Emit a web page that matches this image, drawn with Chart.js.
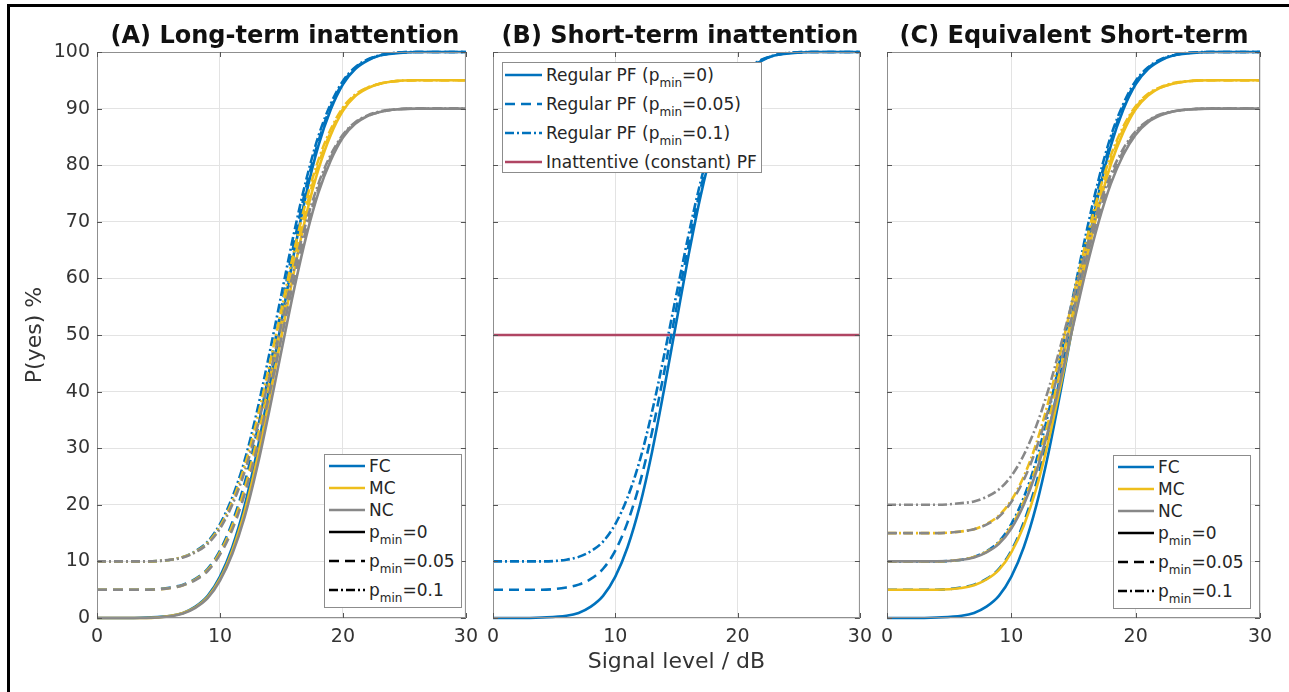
<!DOCTYPE html>
<html>
<head>
<meta charset="utf-8">
<script src="https://cdn.jsdelivr.net/npm/chart.js@4.4.0/dist/chart.umd.min.js"></script>
<style>
    html, body { margin: 0; padding: 0; background: #fff; overflow: hidden; }
    body { width: 1289px; height: 692px; position: relative; font-family: "DejaVu Sans", sans-serif; color: #262626; }
    .frame-top { position: absolute; left: 7px; top: 4px; width: 1282px; height: 3px; background: #000; }
    .frame-left { position: absolute; left: 7px; top: 4px; width: 3px; height: 688px; background: #000; }
    canvas { position: absolute; top: 0; }
    .ptitle { position: absolute; top: 21px; font-weight: bold; font-size: 24px; line-height: 28px; color: #111; transform: translateX(-50%); white-space: nowrap; }
    .legend { position: absolute; background: #fff; border: 1px solid #8c8c8c; font-size: 17px; color: #262626; box-sizing: border-box; overflow: hidden; }
    .row { display: flex; align-items: flex-start; }
    .row svg { flex: none; }
    .row span { line-height: 22px; white-space: nowrap; margin-left: 4px; }
    .row sub { font-size: 12px; line-height: 0; vertical-align: -6px; }
</style>
</head>
<body>
<div class="frame-top"></div>
<div class="frame-left"></div>
<canvas id="chartA" width="486" height="692" style="left:0px"></canvas>
<canvas id="chartB" width="402" height="692" style="left:478px"></canvas>
<canvas id="chartC" width="417" height="692" style="left:872px"></canvas>

<div class="ptitle" style="left:285px">(A) Long-term inattention</div>
<div class="ptitle" style="left:680px">(B) Short-term inattention</div>
<div class="ptitle" style="left:1074px">(C) Equivalent Short-term</div>

<div id="legendA" class="legend" style="left:324px; top:454px; width:138px; height:154px"></div>
<div id="legendB" class="legend" style="left:502px; top:62px; width:260px; height:111px"></div>
<div id="legendC" class="legend" style="left:1113px; top:455px; width:138px; height:154px"></div>

<script>
// signal level (dB)
const xs = [0, 2, 4, 6, 7, 8, 9, 10, 11, 12, 13, 14, 15, 16, 17, 18, 19, 20, 21, 22, 23, 24, 26, 28, 30];

// FC curves (same in all panels), P(yes) %
const fc0  = [0, 0, 0.1, 0.4, 0.9, 2.0, 3.9, 7.3, 12.5, 19.8, 29.3, 40.5, 52.4, 64.2, 74.8, 83.4, 89.8, 94.3, 97.0, 98.5, 99.4, 99.7, 100, 100, 100];
const fc05 = [5, 5, 5, 5.4, 5.9, 6.9, 8.7, 11.9, 16.9, 23.8, 32.8, 43.5, 54.8, 66.0, 76.1, 84.2, 90.3, 94.6, 97.2, 98.6, 99.4, 99.8, 100, 100, 100];
const fc10 = [10, 10, 10, 10.3, 10.8, 11.8, 13.5, 16.6, 21.3, 27.8, 36.4, 46.5, 57.2, 67.8, 77.3, 85.1, 90.8, 94.9, 97.3, 98.7, 99.4, 99.8, 100, 100, 100];

// (A) long-term inattention
const ltMC0  = [0, 0, 0, 0.4, 0.9, 1.9, 3.7, 6.9, 11.9, 18.8, 27.8, 38.5, 49.8, 61.0, 71.1, 79.2, 85.3, 89.6, 92.2, 93.6, 94.4, 94.8, 95, 95, 95];
const ltMC05 = [5, 5, 5, 5.3, 5.8, 6.8, 8.5, 11.6, 16.3, 22.8, 31.4, 41.5, 52.2, 62.8, 72.3, 80.1, 85.8, 89.9, 92.3, 93.7, 94.4, 94.8, 95, 95, 95];
const ltMC10 = [10, 10, 10, 10.3, 10.8, 11.7, 13.3, 16.2, 20.6, 26.8, 34.9, 44.4, 54.5, 64.6, 73.6, 80.9, 86.3, 90.2, 92.5, 93.7, 94.4, 94.8, 95, 95, 95];
const ltNC0  = [0, 0, 0, 0.3, 0.8, 1.8, 3.5, 6.6, 11.3, 17.8, 26.4, 36.5, 47.2, 57.8, 67.3, 75.1, 80.8, 84.9, 87.3, 88.7, 89.4, 89.8, 90, 90, 90];
const ltNC05 = [5, 5, 5, 5.3, 5.8, 6.7, 8.3, 11.2, 15.6, 21.8, 29.9, 39.4, 49.5, 59.6, 68.6, 75.9, 81.3, 85.2, 87.5, 88.7, 89.4, 89.8, 90, 90, 90];
const ltNC10 = [10, 10, 10, 10.3, 10.7, 11.6, 13.1, 15.8, 20.0, 25.8, 33.4, 42.4, 51.9, 61.4, 69.8, 76.7, 81.8, 85.4, 87.6, 88.8, 89.5, 89.8, 90, 90, 90];

// (B) inattentive constant PF
const inattX = [0, 30];
const inattY = [50, 50];

// (C) equivalent short-term
const esMC0  = [5, 5, 5, 5.3, 5.8, 6.8, 8.5, 11.6, 16.3, 22.8, 31.4, 41.5, 52.2, 62.8, 72.3, 80.1, 85.8, 89.9, 92.3, 93.7, 94.4, 94.8, 95, 95, 95];
const esMC05 = [10, 10, 10, 10.3, 10.8, 11.7, 13.3, 16.2, 20.6, 26.8, 34.9, 44.4, 54.5, 64.6, 73.6, 80.9, 86.3, 90.2, 92.5, 93.7, 94.4, 94.8, 95, 95, 95];
const esMC10 = [15, 15, 15, 15.3, 15.7, 16.6, 18.1, 20.8, 25.0, 30.8, 38.4, 47.4, 56.9, 66.4, 74.8, 81.7, 86.8, 90.4, 92.6, 93.8, 94.5, 94.8, 95, 95, 95];
const esNC0  = [10, 10, 10, 10.3, 10.7, 11.6, 13.1, 15.8, 20.0, 25.8, 33.4, 42.4, 51.9, 61.4, 69.8, 76.7, 81.8, 85.4, 87.6, 88.8, 89.5, 89.8, 90, 90, 90];
const esNC05 = [15, 15, 15, 15.3, 15.7, 16.5, 17.9, 20.5, 24.4, 29.9, 37.0, 45.4, 54.3, 63.2, 71.1, 77.6, 82.4, 85.7, 87.8, 88.9, 89.5, 89.8, 90, 90, 90];
const esNC10 = [20, 20, 20, 20.3, 20.6, 21.4, 22.7, 25.1, 28.8, 33.9, 40.5, 48.4, 56.7, 64.9, 72.4, 78.4, 82.9, 86.0, 87.9, 89.0, 89.5, 89.8, 90, 90, 90];

const xTicks = [0, 10, 20, 30];

const BLUE = '#0072BD';
const YELLOW = '#EEBE1C';
const GRAY = '#888888';
const RED = '#B04563';
const TEXT = '#333333';
const GRID = '#e3e3e3';
const AXIS = '#8f8f8f';
const FONT = '"DejaVu Sans", sans-serif';

const SOLID = [];
const DASHED = [10, 6];
const DASHDOT = [9, 3, 2, 3];

const curve = (px, py, color, dash, order) => ({
    data: px.map((x, i) => ({ x: x, y: py[i] })),
    borderColor: color,
    borderWidth: 2.6,
    borderDash: dash,
    pointRadius: 0,
    fill: false,
    cubicInterpolationMode: 'monotone',
    clip: 4,
    order: order
});

// box + inward tick marks, like the original axes
const axesBox = {
    id: 'axesBox',
    afterDatasetsDraw(chart) {
        const { ctx, chartArea: a, scales } = chart;
        ctx.save();
        ctx.setLineDash([]);
        ctx.strokeStyle = AXIS;
        ctx.lineWidth = 1;
        ctx.strokeRect(a.left + 0.5, a.top + 0.5, a.width - 1, a.height - 1);
        ctx.strokeStyle = '#555';
        ctx.beginPath();
        scales.x.ticks.forEach(t => {
            const p = Math.round(scales.x.getPixelForValue(t.value)) + 0.5;
            ctx.moveTo(p, a.bottom); ctx.lineTo(p, a.bottom - 5);
            ctx.moveTo(p, a.top); ctx.lineTo(p, a.top + 5);
        });
        scales.y.ticks.forEach(t => {
            const p = Math.round(scales.y.getPixelForValue(t.value)) + 0.5;
            ctx.moveTo(a.left, p); ctx.lineTo(a.left + 5, p);
            ctx.moveTo(a.right, p); ctx.lineTo(a.right - 5, p);
        });
        ctx.stroke();
        ctx.restore();
    }
};

const makeChart = (id, datasets, opts) => new Chart(document.getElementById(id), {
    type: 'line',
    data: { datasets: datasets },
    options: {
        responsive: false,
        animation: false,
        devicePixelRatio: 1,
        layout: { padding: { left: opts.padLeft, right: opts.padRight, top: 52, bottom: 0 } },
        plugins: { legend: { display: false }, tooltip: { enabled: false } },
        scales: {
            x: {
                type: 'linear',
                min: 0,
                max: 30,
                afterBuildTicks: s => { s.ticks = xTicks.map(v => ({ value: v })); },
                ticks: { color: TEXT, font: { family: FONT, size: 19 }, padding: 8, maxRotation: 0 },
                grid: { color: GRID, drawTicks: false },
                border: { display: false },
                title: {
                    display: !!opts.xTitle,
                    text: opts.xTitle || '',
                    color: TEXT,
                    font: { family: FONT, size: 22 },
                    padding: { top: 0, bottom: 17 }
                },
                afterFit: s => { s.height = 74; }
            },
            y: {
                type: 'linear',
                min: 0,
                max: 100,
                ticks: { display: opts.yLabels, stepSize: 10, color: TEXT, font: { family: FONT, size: 19 }, padding: 7 },
                grid: { color: GRID, drawTicks: false },
                border: { display: false },
                title: {
                    display: !!opts.yTitle,
                    text: opts.yTitle || '',
                    color: TEXT,
                    font: { family: FONT, size: 22 },
                    padding: { top: 10, bottom: 0 }
                },
                afterFit: s => { s.width = opts.yWidth; }
            }
        }
    },
    plugins: [axesBox]
});

makeChart('chartA', [
    curve(xs, ltNC10, GRAY, DASHDOT, 1),
    curve(xs, ltNC05, GRAY, DASHED, 2),
    curve(xs, ltNC0, GRAY, SOLID, 3),
    curve(xs, ltMC10, YELLOW, DASHDOT, 4),
    curve(xs, ltMC05, YELLOW, DASHED, 5),
    curve(xs, ltMC0, YELLOW, SOLID, 6),
    curve(xs, fc10, BLUE, DASHDOT, 7),
    curve(xs, fc05, BLUE, DASHED, 8),
    curve(xs, fc0, BLUE, SOLID, 9)
], { padLeft: 12, padRight: 15, yWidth: 85, yLabels: true, yTitle: 'P(yes) %' });

makeChart('chartB', [
    curve(xs, fc0, BLUE, SOLID, 1),
    curve(xs, fc05, BLUE, DASHED, 2),
    curve(xs, fc10, BLUE, DASHDOT, 3),
    curve(inattX, inattY, RED, SOLID, 4)
], { padLeft: 15, padRight: 14, yWidth: 0, yLabels: false, xTitle: 'Signal level / dB' });

makeChart('chartC', [
    curve(xs, esNC10, GRAY, DASHDOT, 1),
    curve(xs, esNC05, GRAY, DASHED, 2),
    curve(xs, esNC0, GRAY, SOLID, 3),
    curve(xs, esMC10, YELLOW, DASHDOT, 4),
    curve(xs, esMC05, YELLOW, DASHED, 5),
    curve(xs, esMC0, YELLOW, SOLID, 6),
    curve(xs, fc10, BLUE, DASHDOT, 7),
    curve(xs, fc05, BLUE, DASHED, 8),
    curve(xs, fc0, BLUE, SOLID, 9)
], { padLeft: 15, padRight: 29, yWidth: 0, yLabels: false });

// legends (html, so the subscripts stay real text)
const groupLegend = [
    { label: 'FC', color: BLUE, dash: SOLID },
    { label: 'MC', color: YELLOW, dash: SOLID },
    { label: 'NC', color: GRAY, dash: SOLID },
    { label: 'p<sub>min</sub>=0', color: '#000', dash: SOLID },
    { label: 'p<sub>min</sub>=0.05', color: '#000', dash: DASHED },
    { label: 'p<sub>min</sub>=0.1', color: '#000', dash: DASHDOT }
];
const pfLegend = [
    { label: 'Regular PF (p<sub>min</sub>=0)', color: BLUE, dash: SOLID },
    { label: 'Regular PF (p<sub>min</sub>=0.05)', color: BLUE, dash: DASHED },
    { label: 'Regular PF (p<sub>min</sub>=0.1)', color: BLUE, dash: DASHDOT },
    { label: 'Inattentive (constant) PF', color: RED, dash: SOLID }
];

const renderLegend = (id, items, lineLeft, lineLen, padTop) => {
    const el = document.getElementById(id);
    el.style.paddingTop = padTop + 'px';
    el.innerHTML = items.map(it => `
        <div class="row" style="height:${it.label.includes('<sub>') ? 29 : 22}px">
            <svg width="${lineLen + lineLeft}" height="22"><line x1="${lineLeft}" y1="11" x2="${lineLeft + lineLen}" y2="11"
                stroke="${it.color}" stroke-width="2.4" stroke-dasharray="${it.dash.length ? it.dash.join(' ') : 'none'}"/></svg>
            <span>${it.label}</span>
        </div>`).join('');
};

renderLegend('legendA', groupLegend, 4, 36, 0);
renderLegend('legendB', pfLegend, 2, 37, 1);
renderLegend('legendC', groupLegend, 4, 36, 0);
</script>
</body>
</html>
